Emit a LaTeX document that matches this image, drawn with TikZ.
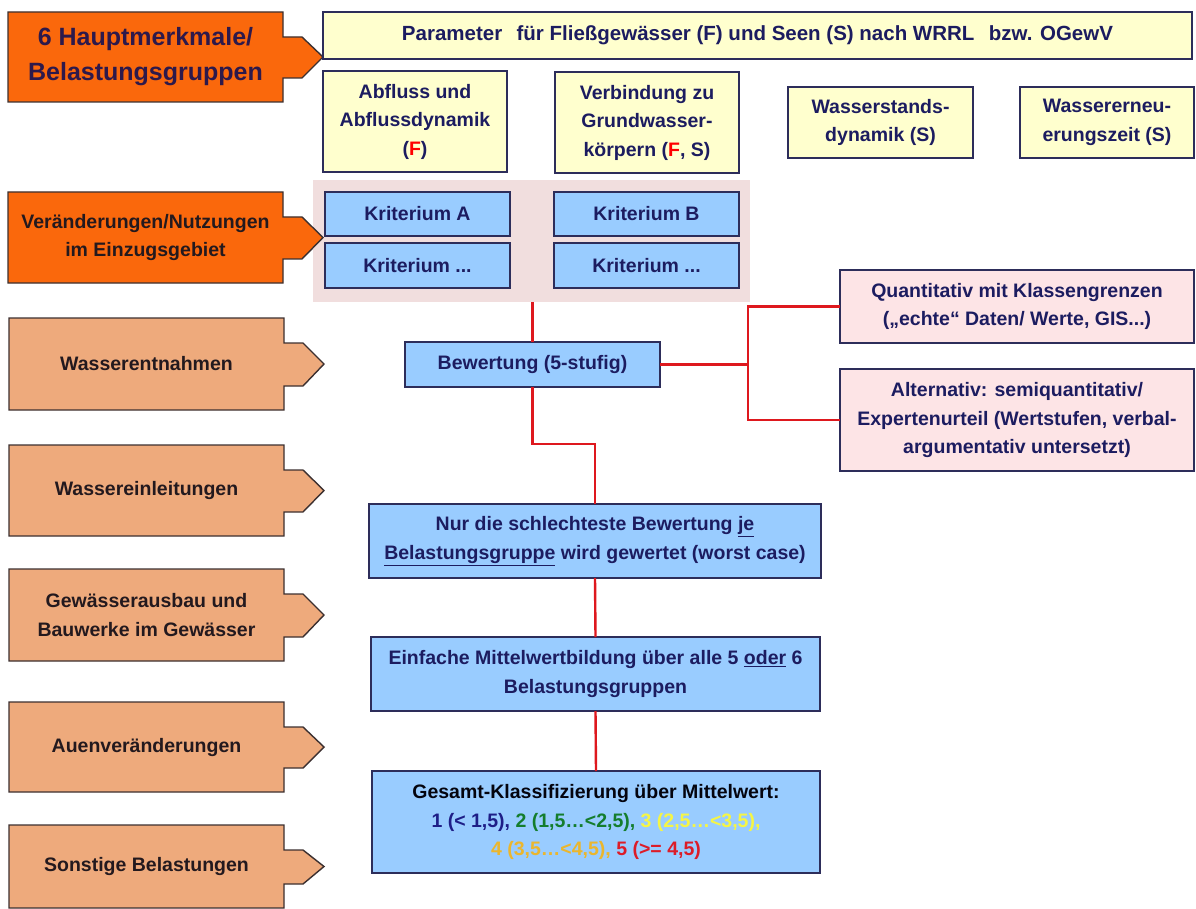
\documentclass[tikz,border=0pt]{standalone}
\usepackage{fontspec}
\setmainfont{Liberation Sans}
\usetikzlibrary{calc,backgrounds}
\pgfdeclarelayer{bottom}
\pgfsetlayers{bottom,background,main}
\definecolor{darkor}{RGB}{250,104,12}
\definecolor{lightor}{RGB}{238,170,124}
\definecolor{lyellow}{RGB}{255,255,206}
\definecolor{lblue}{RGB}{153,204,255}
\definecolor{grpbg}{RGB}{241,222,222}
\definecolor{lpink}{RGB}{253,228,230}
\definecolor{navy}{RGB}{28,28,96}
\definecolor{boxline}{RGB}{45,45,90}
\definecolor{tabline}{RGB}{60,48,48}
\definecolor{redline}{RGB}{222,24,30}
\definecolor{gnavy}{RGB}{30,30,135}
\definecolor{ggreen}{RGB}{20,125,45}
\definecolor{gyellow}{RGB}{245,245,70}
\definecolor{gorange}{RGB}{235,182,45}
\definecolor{gred}{RGB}{220,28,40}
\definecolor{tabtext}{RGB}{35,25,30}
\definecolor{titletext}{RGB}{45,25,75}
\tikzset{
  txt/.style={font=\fontsize{19.5}{28.5}\selectfont\bfseries},
  box/.style={txt, draw=boxline, line width=1.4pt, inner sep=0pt, outer sep=0pt,
    align=center, text=navy},
  ybox/.style={box, fill=lyellow},
  bbox/.style={box, fill=lblue},
  pbox/.style={box, fill=lpink},
  tabnode/.style={txt, inner sep=0pt, outer sep=0pt, align=center, text=tabtext},
  tabdraw/.style={draw=tabline, line width=1.4pt, line join=miter},
  conn/.style={draw=redline, line width=2.4pt},
}
\newcommand\tabarrow[2]{%
  \begin{pgfonlayer}{background}
  \path[tabdraw, fill=#2] (#1.north west) -- (#1.north east) -- ++(0,25) -- ++(19,0)
    -- ($(#1.east)+(40,0)$) -- ($(#1.south east)+(19,-24)$) -- ++(-19,0)
    -- (#1.south east) -- (#1.south west) -- cycle;
  \end{pgfonlayer}}
\begin{document}
\begin{tikzpicture}[x=1pt,y=-1pt]
\begin{pgfonlayer}{bottom}
\fill[white] (0,0) rectangle (1196,909);
\end{pgfonlayer}
\useasboundingbox (0,0) rectangle (1196,909);

% group background
\begin{pgfonlayer}{background}
\node[fill=grpbg, inner sep=0pt, outer sep=0pt, minimum width=437pt, minimum height=122pt] (grp) at (531.5,241) {};
\end{pgfonlayer}

% left tab arrows
\node[tabnode, minimum width=275pt, minimum height=90pt, text=titletext,
  font=\fontsize{25}{35}\selectfont\bfseries] (hm) at (145.5,57) {6 Hauptmerkmale/\\Belastungsgruppen};
\tabarrow{hm}{darkor}
\node[tabnode, minimum width=275pt, minimum height=91pt] (vn) at (145.5,237.5) {Veränderungen/Nutzungen\\im Einzugsgebiet};
\tabarrow{vn}{darkor}
\node[tabnode, minimum width=275pt, minimum height=92pt] (we) at (146.5,364) {Wasserentnahmen};
\tabarrow{we}{lightor}
\node[tabnode, minimum width=275pt, minimum height=91pt] (wi) at (146.5,490.5) {Wassereinleitungen};
\tabarrow{wi}{lightor}
\node[tabnode, minimum width=275pt, minimum height=92pt] (ga) at (146.5,615) {Gewässerausbau und\\Bauwerke im Gewässer};
\tabarrow{ga}{lightor}
\node[tabnode, minimum width=275pt, minimum height=90pt] (av) at (146.5,747) {Auenveränderungen};
\tabarrow{av}{lightor}
\node[tabnode, minimum width=275pt, minimum height=83pt] (sb) at (146.5,866.5) {Sonstige Belastungen};
\tabarrow{sb}{lightor}

% header and parameters
\node[ybox, minimum width=869pt, minimum height=47pt, font=\fontsize{20.5}{28.5}\selectfont\bfseries] (par) at (757.5,35.5)
  {Parameter\hspace{0.7em}für Fließgewässer (F) und Seen (S) nach WRRL\hspace{0.7em}bzw. OGewV};
\node[ybox, minimum width=184pt, minimum height=101pt] (abf) at (415,121.5)
  {Abfluss und\\Abflussdynamik\\(\textcolor{red}{F})};
\node[ybox, minimum width=184pt, minimum height=101pt] (vgw) at (647,122.5)
  {Verbindung zu\\Grundwasser-\\körpern (\textcolor{red}{F}, S)};
\node[ybox, minimum width=185pt, minimum height=71pt] (wsd) at (880.5,122.5)
  {Wasserstands-\\dynamik (S)};
\node[ybox, minimum width=174pt, minimum height=71pt] (wez) at (1107,122.5)
  {Wassererneu-\\erungszeit (S)};

% criteria
\node[bbox, minimum width=185pt, minimum height=44pt] (kA) at (417.5,214) {Kriterium A};
\node[bbox, minimum width=185pt, minimum height=45pt] (kA2) at (417.5,265.5) {Kriterium ...};
\node[bbox, minimum width=185pt, minimum height=44pt] (kB) at (646.5,214) {Kriterium B};
\node[bbox, minimum width=185pt, minimum height=45pt] (kB2) at (646.5,265.5) {Kriterium ...};

% evaluation chain
\node[bbox, minimum width=255pt, minimum height=45pt] (bew) at (532.5,364.5) {Bewertung (5-stufig)};
\node[pbox, minimum width=354pt, minimum height=73pt] (qua) at (1017,306.5)
  {Quantitativ mit Klassengrenzen\\(„echte“ Daten/ Werte, GIS...)};
\node[pbox, minimum width=354pt, minimum height=102pt] (alt) at (1017,420)
  {Alternativ: semiquantitativ/\\Expertenurteil (Wertstufen, verbal-\\argumentativ untersetzt)};
\node[bbox, minimum width=452pt, minimum height=74pt] (nur) at (595,541)
  {Nur die schlechteste Bewertung \underline{je}\\\underline{Belastungsgruppe} wird gewertet (worst case)};
\node[bbox, minimum width=449pt, minimum height=74pt] (ein) at (595.5,674)
  {Einfache Mittelwertbildung über alle 5 \underline{oder} 6\\Belastungsgruppen};
\node[bbox, minimum width=448pt, minimum height=102pt, text=black!85!navy] (ges) at (596,822)
  {Gesamt-Klassifizierung über Mittelwert:\\
   \textcolor{gnavy}{1 (< 1,5),} \textcolor{ggreen}{2 (1,5…<2,5),} \textcolor{gyellow}{3 (2,5…<3,5),}\\
   \textcolor{gorange}{4 (3,5…<4,5),} \textcolor{gred}{5 (>= 4,5)}};

% connectors
\coordinate (br) at (748,364.5);
\draw[conn] (grp.south -| bew.north) -- (bew.north);
\draw[conn] (bew.east) -- (br);
\draw[conn] (qua.west) -| (br) |- (alt.west);
\draw[conn] (bew.south) -- ++(0,57) -| (nur.north);
\draw[conn] (nur.south) -- (ein.north);
\draw[conn] (ein.south) -- (ges.north);
\end{tikzpicture}
\end{document}
